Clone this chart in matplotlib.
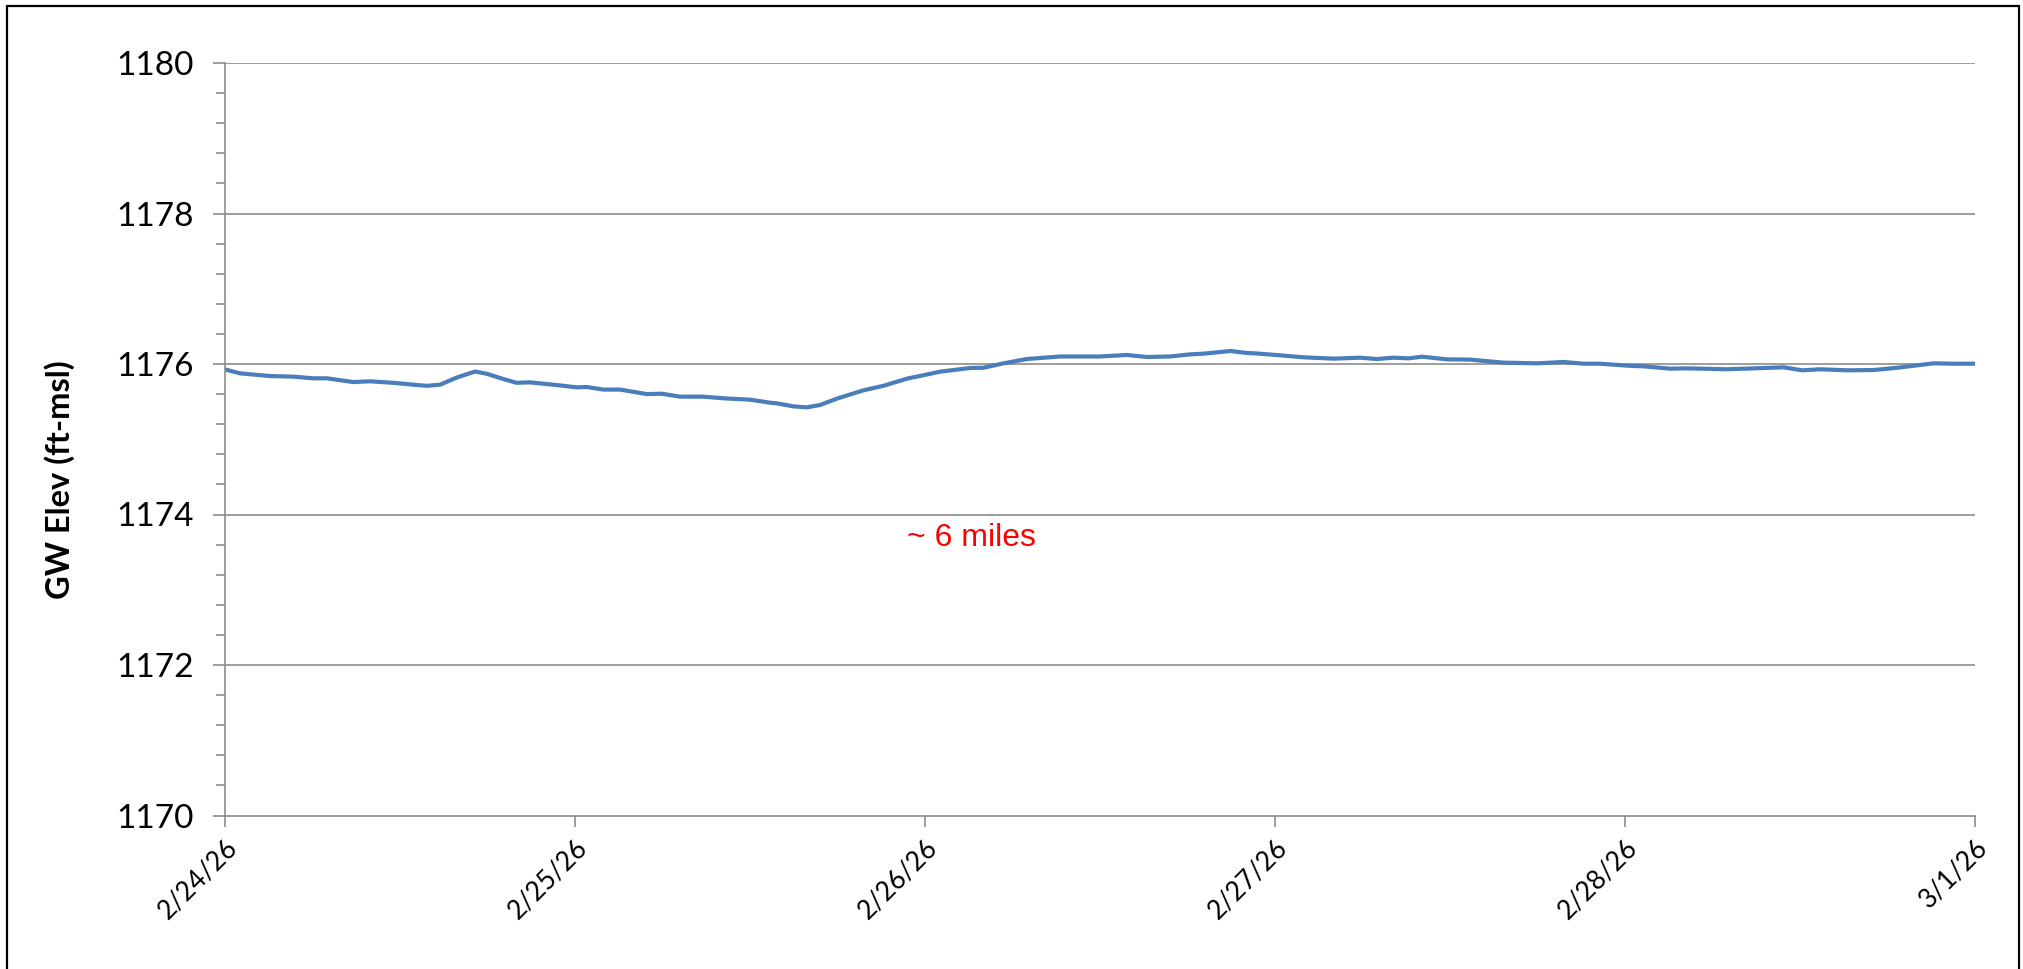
import matplotlib
matplotlib.use("Agg")
import matplotlib.pyplot as plt
from matplotlib.patches import Rectangle
from matplotlib.ticker import MultipleLocator
import numpy as np
import pandas as pd

# hours after 2/24/26 00:00
hours = [0.0, 1.06, 3.12, 4.72, 6.09, 7.0, 8.83, 9.98, 11.57, 12.95, 13.86, 14.78,
         15.92, 17.18, 17.98, 19.12, 20.03, 20.95, 22.55, 24.15, 24.84, 25.97,
         27.12, 28.95, 29.98, 31.23, 32.83, 34.2, 36.03, 37.4, 37.86, 39.0, 39.92,
         40.83, 41.98, 43.8, 45.17, 46.78, 48.38, 49.06, 51.12, 52.03, 53.4, 55.0,
         57.29, 60.03, 61.86, 63.23, 64.83, 66.2, 67.1, 68.95, 70.1, 70.77, 72.38,
         73.97, 76.03, 77.86, 79.0, 80.14, 81.17, 82.09, 83.8, 85.4, 87.68, 89.97,
         91.8, 93.17, 94.3, 96.4, 97.29, 99.12, 100.26, 103.0, 104.83, 106.89,
         108.15, 109.4, 111.23, 113.06, 114.66, 117.17, 118.54, 120.0]
gw_elev = [1175.93, 1175.876, 1175.84, 1175.832, 1175.81, 1175.81, 1175.76, 1175.77,
           1175.75, 1175.725, 1175.71, 1175.725, 1175.82, 1175.90, 1175.87, 1175.80,
           1175.75, 1175.756, 1175.725, 1175.69, 1175.694, 1175.66, 1175.66, 1175.60,
           1175.605, 1175.566, 1175.566, 1175.544, 1175.526, 1175.486, 1175.477,
           1175.437, 1175.424, 1175.455, 1175.54, 1175.65, 1175.71, 1175.805, 1175.87,
           1175.898, 1175.947, 1175.95, 1176.009, 1176.066, 1176.10, 1176.10, 1176.12,
           1176.093, 1176.10, 1176.128, 1176.137, 1176.173, 1176.146, 1176.14, 1176.115,
           1176.089, 1176.071, 1176.084, 1176.066, 1176.084, 1176.075, 1176.097,
           1176.062, 1176.058, 1176.018, 1176.009, 1176.027, 1176.004, 1176.004,
           1175.975, 1175.969, 1175.938, 1175.942, 1175.93, 1175.942, 1175.956,
           1175.916, 1175.93, 1175.916, 1175.92, 1175.95, 1176.009, 1176.004, 1176.004]

start = pd.Timestamp("2026-02-24")
tick_dates = pd.date_range("2026-02-24", "2026-03-01", freq="D")
tick_labels = ["2/24/26", "2/25/26", "2/26/26", "2/27/26", "2/28/26", "3/1/26"]
y_ticks = [1170, 1172, 1174, 1176, 1178, 1180]

times = start + pd.to_timedelta(hours, unit="h")

GRAY = "#8c8c8c"

fig = plt.figure(figsize=(20.23, 9.69), dpi=100)
ax = fig.add_axes([224.5 / 2023, 1 - 815.5 / 969, (1975 - 224.5) / 2023, (815.5 - 63) / 969])

ax.plot(times, gw_elev, color="#4a7ebb", linewidth=3.0, solid_capstyle="round",
        solid_joinstyle="round")

ax.set_xlim(tick_dates[0], tick_dates[-1])
ax.set_ylim(y_ticks[0], y_ticks[-1])
ax.set_yticks(y_ticks)
ax.yaxis.set_minor_locator(MultipleLocator(0.4))
ax.set_yticklabels([str(v) for v in y_ticks], fontfamily="Lato", fontsize=24)
ax.set_xticks(tick_dates)
ax.set_xticklabels(tick_labels, rotation=45, ha="right", rotation_mode="anchor",
                   fontfamily="Lato", fontsize=19)

for v in y_ticks[1:]:
    ax.axhline(v, color=GRAY, linewidth=1.2, zorder=0)

for side in ["top", "right"]:
    ax.spines[side].set_visible(False)
for side in ["left", "bottom"]:
    ax.spines[side].set_color(GRAY)
    ax.spines[side].set_linewidth(1.2)

ax.tick_params(axis="y", which="major", direction="out", length=9, width=1.2, color=GRAY, pad=13)
ax.tick_params(axis="y", which="minor", direction="out", length=6.5, width=1.2, color=GRAY)
ax.tick_params(axis="x", which="major", direction="out", length=8, width=1.2, color=GRAY, pad=6)

fig.text(60 / 2023, 1 - 480 / 969, "GW Elev (ft-msl)", rotation=90, ha="center", va="center",
         fontfamily="Lato", fontweight="bold", fontsize=23.5)

ax.text(0.4265, 0.3688, "~ 6 miles", transform=ax.transAxes, color="red",
        fontfamily="Liberation Sans", fontsize=23, ha="center", va="center")

fig.patches.append(Rectangle((7 / 2023, -0.02), (2019 - 7) / 2023, 1.02 - 6 / 969,
                             transform=fig.transFigure, fill=False, edgecolor="black",
                             linewidth=1.6))

fig.savefig("out.png", dpi=100)
